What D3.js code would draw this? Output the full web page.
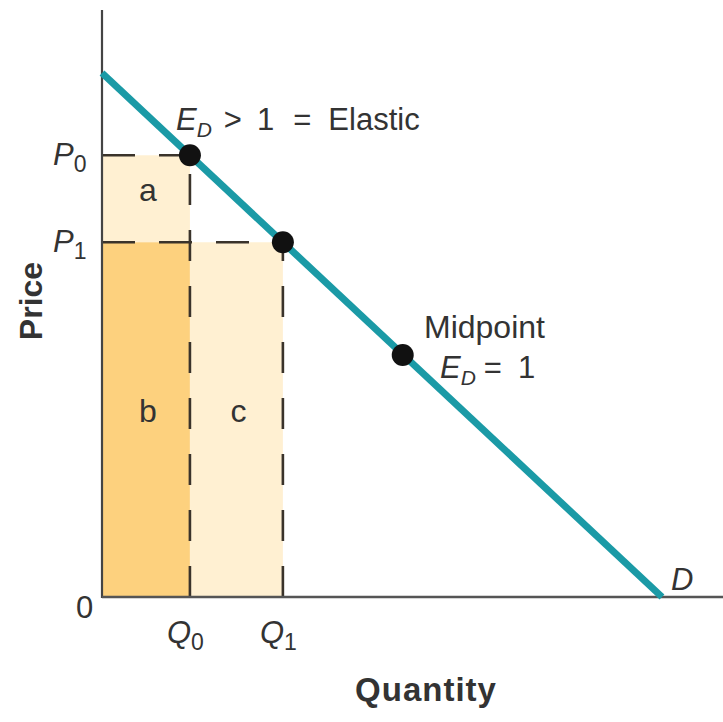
<!DOCTYPE html>
<html><head><meta charset="utf-8">
<script src="https://cdn.jsdelivr.net/npm/d3@7"></script>
<style>body{margin:0;background:#fff}svg text{font-family:"Liberation Sans",Arial,sans-serif;fill:#333}</style>
</head><body><svg id="c" width="723" height="722"></svg>
<script>
// Data (quantity, price units; demand intercepts at 100)
const demand = [{q:0,p:100},{q:100,p:0}];
const priceLevels = [{name:"P",sub:"0",p:84.3},{name:"P",sub:"1",p:67.7}];
const qtyLevels = [{name:"Q",sub:"0",q:15.7},{name:"Q",sub:"1",q:32.3}];
const midpoint = {q:53.7,p:46.2};
const areas = [
  {label:"a", q0:0, q1:15.7, p0:67.7, p1:84.3, dark:false},
  {label:"b", q0:0, q1:15.7, p0:0, p1:67.7, dark:true},
  {label:"c", q0:15.7, q1:32.3, p0:0, p1:67.7, dark:false}
];

const svg = d3.select("#c");
const x = d3.scaleLinear().domain([0,100]).range([102,662]);
const y = d3.scaleLinear().domain([0,100]).range([597,73]);
const xMax = x.invert(723), yMax = y.invert(10);

// areas
svg.selectAll("rect.area").data(areas).enter().append("rect")
  .attr("x",d=>x(d.q0)).attr("width",d=>x(d.q1)-x(d.q0))
  .attr("y",d=>y(d.p1)).attr("height",d=>y(d.p0)-y(d.p1))
  .attr("fill",d=>d.dark?"#fdd17e":"#fff0d2");
svg.selectAll("text.area").data(areas).enter().append("text")
  .attr("x",d=>(x(d.q0)+x(d.q1))/2+2).attr("y",d=>(y(d.p0)+y(d.p1))/2+2)
  .attr("text-anchor","middle").attr("font-size",32).text(d=>d.label);

// dashed guides
const pts = [{q:15.7,p:84.3},{q:32.3,p:67.7}];
pts.forEach(d=>{
  svg.append("line").attr("x1",x(0)).attr("x2",x(d.q)).attr("y1",y(d.p)).attr("y2",y(d.p))
    .attr("stroke","#3a332b").attr("stroke-width",2.6).attr("stroke-dasharray","33,24");
  svg.append("line").attr("x1",x(d.q)).attr("x2",x(d.q)).attr("y1",y(0)).attr("y2",y(d.p))
    .attr("stroke","#3a332b").attr("stroke-width",2.6).attr("stroke-dasharray","31,25");
});

// axes
svg.append("line").attr("x1",x(0)).attr("x2",x(0)).attr("y1",y(yMax)).attr("y2",y(0)+1)
  .attr("stroke","#444").attr("stroke-width",2.2);
svg.append("line").attr("x1",x(0)).attr("x2",x(xMax)).attr("y1",y(0)).attr("y2",y(0))
  .attr("stroke","#555").attr("stroke-width",2.4);

// demand line
svg.append("path").datum(demand)
  .attr("d",d3.line().x(d=>x(d.q)).y(d=>y(d.p)))
  .attr("stroke","#1b9aa6").attr("stroke-width",7).attr("fill","none");

// dots
svg.selectAll("circle").data(pts.concat([midpoint])).enter().append("circle")
  .attr("cx",d=>x(d.q)).attr("cy",d=>y(d.p)).attr("r",11).attr("fill","#111");

// tick labels
function subLabel(g, name, sub, xx, yy){
  const t = g.append("text").attr("x",xx).attr("y",yy).attr("font-size",31);
  t.append("tspan").attr("font-style","italic").text(name);
  t.append("tspan").attr("font-size",23).attr("dy",7).text(sub);
  return t;
}
priceLevels.forEach(d=>subLabel(svg,d.name,d.sub,53,y(d.p)+10));
qtyLevels.forEach(d=>subLabel(svg,d.name,d.sub,x(d.q)-23,y(0)+46));
svg.append("text").attr("x",76).attr("y",y(0)+21).attr("font-size",31).text("0");

// annotations
const t1 = svg.append("text").attr("x",176).attr("y",130).attr("font-size",31);
t1.append("tspan").attr("font-style","italic").text("E");
t1.append("tspan").attr("font-style","italic").attr("font-size",21).attr("dy",7).text("D");
t1.append("tspan").attr("dy",-7).attr("dx",12).text(">");
t1.append("tspan").attr("dx",15).text("1");
t1.append("tspan").attr("dx",19).text("=");
t1.append("tspan").attr("dx",17).text("Elastic");

svg.append("text").attr("x",424).attr("y",338).attr("font-size",32).text("Midpoint");
const t2 = svg.append("text").attr("x",440).attr("y",378).attr("font-size",31);
t2.append("tspan").attr("font-style","italic").text("E");
t2.append("tspan").attr("font-style","italic").attr("font-size",21).attr("dy",7).text("D");
t2.append("tspan").attr("dy",-7).attr("dx",8).text("=");
t2.append("tspan").attr("dx",16).text("1");

svg.append("text").attr("x",671).attr("y",590).attr("font-size",31).attr("font-style","italic").text("D");

// axis titles
svg.append("text").attr("transform","translate(42,301) rotate(-90)").attr("text-anchor","middle")
  .attr("font-size",32).attr("font-weight","bold").text("Price");
svg.append("text").attr("x",426).attr("y",701).attr("text-anchor","middle")
  .attr("font-size",33).attr("font-weight","bold").attr("letter-spacing",1).text("Quantity");
</script></body></html>
